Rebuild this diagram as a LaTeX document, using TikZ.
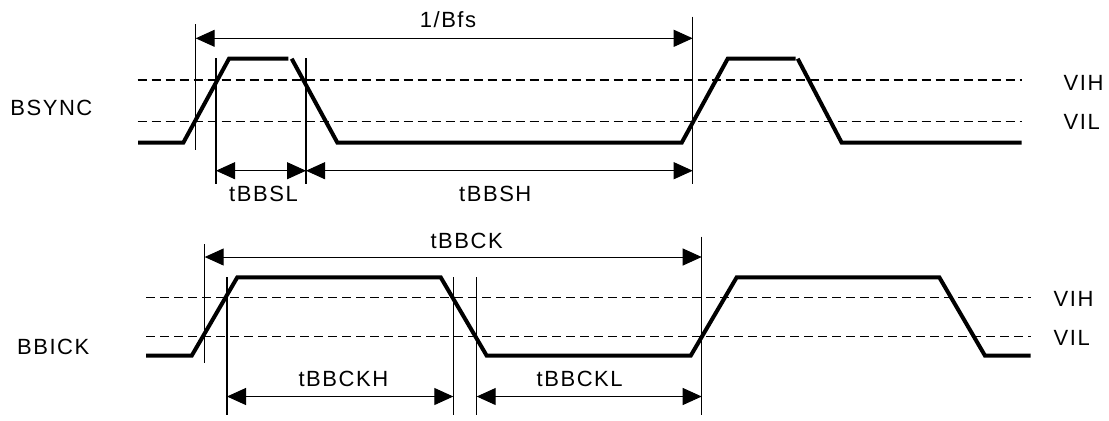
\documentclass[tikz,border=0pt]{standalone}
\usepackage{fontspec}
\setmainfont{Liberation Sans}[LetterSpace=7]
\usetikzlibrary{arrows.meta}
\begin{document}
\begin{tikzpicture}[x=0.5pt,y=-0.5pt,
  sig/.style={line width=2pt, line join=miter},
  lvl/.style={line width=0.6pt, dash pattern=on 4.65pt off 2.35pt},
  tickline/.style={line width=0.6pt},
  dim/.style={line width=0.5pt, {Triangle[length=9.5pt,width=8.5pt]}-{Triangle[length=9.5pt,width=8.5pt]}},
  lbl/.style={inner sep=0pt, font=\fontsize{11pt}{13pt}\selectfont}]
\useasboundingbox (0,0) rectangle (1109,420);

% ---------------- BSYNC ----------------
\draw[lvl] (137.5,80) -- (1021.7,80);
\draw[lvl] (137.5,121.7) -- (1021.7,121.7);
\draw[sig] (138,142.7) -- (183.3,142.7) -- (229,58.7) -- (288.3,58.7);
\draw[sig] (291.7,58.7) -- (337.4,142.7) -- (681.7,142.7) -- (727.7,58.7) -- (795.7,58.7);
\draw[sig] (797.7,58.7) -- (841.7,142.7) -- (1021.7,142.7);

\coordinate (v1t) at (195.7,24);   \coordinate (v1b) at (195.7,150);
\coordinate (v2t) at (216,58.3);   \coordinate (v2b) at (216,184);
\coordinate (v3t) at (306,58.3);   \coordinate (v3b) at (306,184);
\coordinate (v4t) at (692.7,16.7); \coordinate (v4b) at (692.7,184);
\foreach \v in {v1,v2,v3,v4} \draw[tickline] (\v t) -- (\v b);

\coordinate (bfsL) at (195.7,38.3);  \coordinate (bfsR) at (692.7,38.3);
\coordinate (bslL) at (216,170.7);   \coordinate (bslR) at (306,170.7);
\coordinate (bshL) at (306,170.7);   \coordinate (bshR) at (692.7,170.7);
\draw[dim] (bfsL) -- (bfsR);
\draw[dim] (bslL) -- (bslR);
\draw[dim] (bshL) -- (bshR);

\node[lbl, anchor=base] (tbfs) at (448,27.2) {1/Bfs};
\node[lbl, anchor=base] (tbsl) at (263.5,201) {tBBSL};
\node[lbl, anchor=base] (tbsh) at (495.3,201) {tBBSH};
\node[lbl, anchor=base west] (bsync) at (10,115) {BSYNC};
\node[lbl, anchor=base west] (vih1) at (1063.3,90.5) {VIH};
\node[lbl, anchor=base west] (vil1) at (1063.3,129.5) {VIL};

% ---------------- BBICK ----------------
\draw[lvl] (146,297.3) -- (1030.7,297.3);
\draw[lvl] (146,336.7) -- (1030.7,336.7);
\draw[sig] (146,355.7) -- (191.7,355.7) -- (237.3,277.3) -- (440.7,277.3)
  -- (486.7,355.7) -- (690.7,355.7) -- (736.7,277.3) -- (939.3,277.3)
  -- (985,355.7) -- (1030.7,355.7);

\coordinate (w1t) at (204.7,244);   \coordinate (w1b) at (204.7,362.7);
\coordinate (w2t) at (227,277.3);   \coordinate (w2b) at (227,415);
\coordinate (w3t) at (453.3,277.3); \coordinate (w3b) at (453.3,415);
\coordinate (w4t) at (476.7,277.3); \coordinate (w4b) at (476.7,415);
\coordinate (w5t) at (701.7,236.7); \coordinate (w5b) at (701.7,415);
\foreach \v in {w1,w2,w3,w4,w5} \draw[tickline] (\v t) -- (\v b);

\coordinate (ckL) at (204.7,257);   \coordinate (ckR) at (701.7,257);
\coordinate (ckhL) at (227,396.5);  \coordinate (ckhR) at (453.3,396.5);
\coordinate (cklL) at (476.7,396.5); \coordinate (cklR) at (701.7,396.5);
\draw[dim] (ckL) -- (ckR);
\draw[dim] (ckhL) -- (ckhR);
\draw[dim] (cklL) -- (cklR);

\node[lbl, anchor=base] (tck) at (466.7,248.2) {tBBCK};
\node[lbl, anchor=base] (tckh) at (343.4,386.7) {tBBCKH};
\node[lbl, anchor=base] (tckl) at (579.7,386.7) {tBBCKL};
\node[lbl, anchor=base west] (bbick) at (16.7,354.3) {BBICK};
\node[lbl, anchor=base west] (vih2) at (1053.3,306.5) {VIH};
\node[lbl, anchor=base west] (vil2) at (1053.3,345.5) {VIL};
\end{tikzpicture}
\end{document}
